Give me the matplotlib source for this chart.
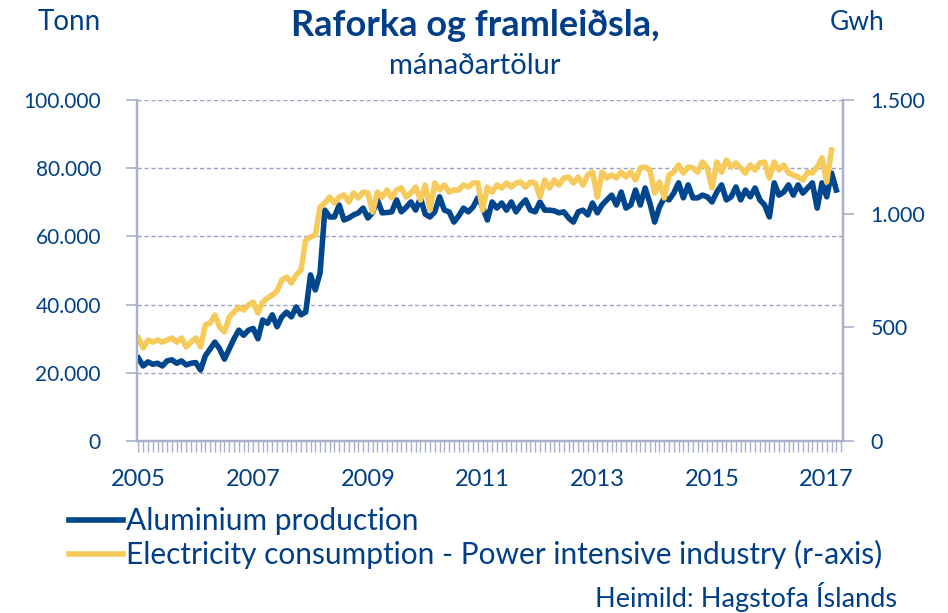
import numpy as np
import matplotlib
matplotlib.use('Agg')
import matplotlib.pyplot as plt
from matplotlib.ticker import FixedLocator, MultipleLocator, FuncFormatter

# Monthly values, Jan 2005 onwards
aluminium = np.array([
    24.3, 22.0, 23.2, 22.5, 22.8, 22.0, 23.5, 23.8, 22.8, 23.5, 22.3, 22.8,
    23.0, 20.8, 25.0, 27.0, 29.0, 27.0, 24.0, 27.0, 30.0, 32.5, 31.0, 32.5,
    33.0, 30.0, 35.5, 34.5, 37.0, 33.5, 36.4, 37.8, 36.4, 39.3, 37.0, 37.8,
    48.7, 44.3, 49.3, 67.7, 65.7, 65.7, 69.2, 64.8, 65.4, 66.3, 66.9, 68.3,
    65.4, 67.0, 70.7, 66.9, 67.0, 67.2, 70.7, 67.2, 68.5, 70.1, 67.7, 71.3,
    66.5, 65.7, 67.2, 71.6, 67.7, 67.2, 64.2, 66.0, 68.3, 67.2, 68.6, 71.3,
    68.6, 64.8, 70.1, 68.3, 69.8, 67.7, 70.1, 67.2, 69.2, 70.7, 67.7, 67.2,
    70.1, 67.7, 67.7, 67.5, 66.9, 67.2, 65.4, 64.2, 67.2, 67.7, 66.3, 69.8,
    66.9, 69.2, 70.7, 72.1, 69.2, 73.0, 68.3, 69.2, 73.6, 69.2, 74.2, 69.8,
    64.2, 68.6, 71.3, 70.7, 72.7, 75.7, 71.3, 75.1, 71.3, 71.3, 72.1, 71.6,
    70.1, 73.0, 75.1, 70.7, 71.6, 74.5, 70.7, 73.6, 71.6, 74.2, 70.7, 69.2,
    65.7, 75.7, 72.1, 73.0, 75.1, 72.1, 75.1, 72.7, 74.2, 75.7, 68.3, 75.7,
    71.6, 78.6, 73.6,
]) * 1000

electricity = np.array([
    453, 409, 444, 435, 444, 435, 444, 453, 435, 453, 414, 435,
    453, 414, 510, 519, 554, 501, 480, 545, 567, 589, 576, 598,
    611, 563, 611, 629, 642, 660, 708, 721, 695, 730, 752, 884,
    897, 906, 1029, 1047, 1073, 1047, 1073, 1082, 1051, 1091, 1069, 1095,
    1091, 1007, 1095, 1073, 1104, 1069, 1104, 1113, 1073, 1091, 1117, 1060,
    1126, 1016, 1135, 1104, 1126, 1095, 1104, 1104, 1126, 1117, 1135, 1135,
    1016, 1117, 1095, 1126, 1113, 1135, 1117, 1135, 1139, 1117, 1139, 1135,
    1073, 1148, 1113, 1148, 1126, 1157, 1161, 1135, 1161, 1126, 1170, 1183,
    1073, 1183, 1157, 1170, 1157, 1183, 1161, 1183, 1148, 1201, 1205, 1192,
    1091, 1139, 1069, 1170, 1183, 1214, 1179, 1205, 1201, 1183, 1227, 1201,
    1113, 1227, 1183, 1236, 1205, 1223, 1201, 1179, 1214, 1192, 1223, 1227,
    1157, 1227, 1192, 1214, 1179, 1170, 1161, 1148, 1183, 1179, 1205, 1245,
    1139, 1280,
])

year_labels = ['2005', '2007', '2009', '2011', '2013', '2015', '2017']
left_ticks = [0, 20000, 40000, 60000, 80000, 100000]
right_ticks = [0, 500, 1000, 1500]

text_color = '#003f87'
blue = '#00468c'
yellow = '#f6ca5b'
axis_color = '#a9b0cc'
grid_color = '#9ca2c2'

plt.rcParams['font.family'] = 'Lato'


def dotted_thousands(v, pos):
    return '{:,.0f}'.format(v).replace(',', '.')


fig = plt.figure(figsize=(9.48, 6.13), dpi=100)
ax = fig.add_axes([137 / 948, 1 - 441 / 613, (843 - 137) / 948, 341 / 613])
ax2 = ax.twinx()

months_al = np.arange(len(aluminium))
months_el = np.arange(len(electricity))
ax.plot(months_al, aluminium, color=blue, lw=4.0, solid_joinstyle='round',
        label='Aluminium production', zorder=3)
ax2.plot(months_el, electricity, color=yellow, lw=4.0, solid_joinstyle='round',
         label='Electricity consumption - Power intensive industry (r-axis)')

ax.set_xlim(-0.3, 147.4)
ax.set_ylim(0, 100000)
ax2.set_ylim(0, 1500)

# Grid lines on the left scale
for v in left_ticks[1:]:
    ax.axhline(v, color=grid_color, lw=1.0, ls=(0, (3, 2)), zorder=1)

for a in (ax, ax2):
    a.spines['top'].set_visible(False)
    for side in ('left', 'right', 'bottom'):
        a.spines[side].set_color(axis_color)
        a.spines[side].set_linewidth(1.6)

ax.xaxis.set_major_locator(FixedLocator(np.arange(0, 145, 24)))
ax.xaxis.set_minor_locator(MultipleLocator(1))
ax.set_xticklabels(year_labels)
ax.tick_params(axis='x', which='both', direction='out', length=8, width=1.0,
               color=axis_color, pad=12, labelsize=17, labelcolor=text_color)

ax.set_yticks(left_ticks)
ax.yaxis.set_major_formatter(FuncFormatter(dotted_thousands))
ax.tick_params(axis='y', direction='out', length=8, width=1.2,
               color=axis_color, pad=18, labelsize=15, labelcolor=text_color)

ax2.set_yticks(right_ticks)
ax2.yaxis.set_major_formatter(FuncFormatter(dotted_thousands))
ax2.tick_params(axis='y', direction='out', length=8, width=1.2,
                color=axis_color, pad=12, labelsize=15.5, labelcolor=text_color)

# Titles and unit labels
fig.text(475 / 948, 1 - 25 / 613, 'Raforka og framleiðsla,', ha='center',
         va='center', fontsize=26, fontweight='bold', color=text_color)
fig.text(475 / 948, 1 - 66 / 613, 'mánaðartölur', ha='center', va='center',
         fontsize=21, color=text_color)
fig.text(69 / 948, 1 - 22 / 613, 'Tonn', ha='center', va='center',
         fontsize=20, color=text_color)
fig.text(857 / 948, 1 - 22 / 613, 'Gwh', ha='center', va='center',
         fontsize=19, color=text_color)

handles = ax.get_lines()[:1] + ax2.get_lines()[:1]
fig.legend(handles, [h.get_label() for h in handles], loc='upper left',
           bbox_to_anchor=(69 / 948, 1 - 507 / 613), frameon=False,
           fontsize=21.5, handlelength=1.8, handletextpad=0.1,
           labelspacing=0.17, labelcolor=text_color, borderaxespad=0,
           borderpad=0)

fig.text(897 / 948, 1 - 597 / 613, 'Heimild: Hagstofa Íslands', ha='right',
         va='center', fontsize=19.5, color=text_color)

fig.savefig('out.png', dpi=100)
